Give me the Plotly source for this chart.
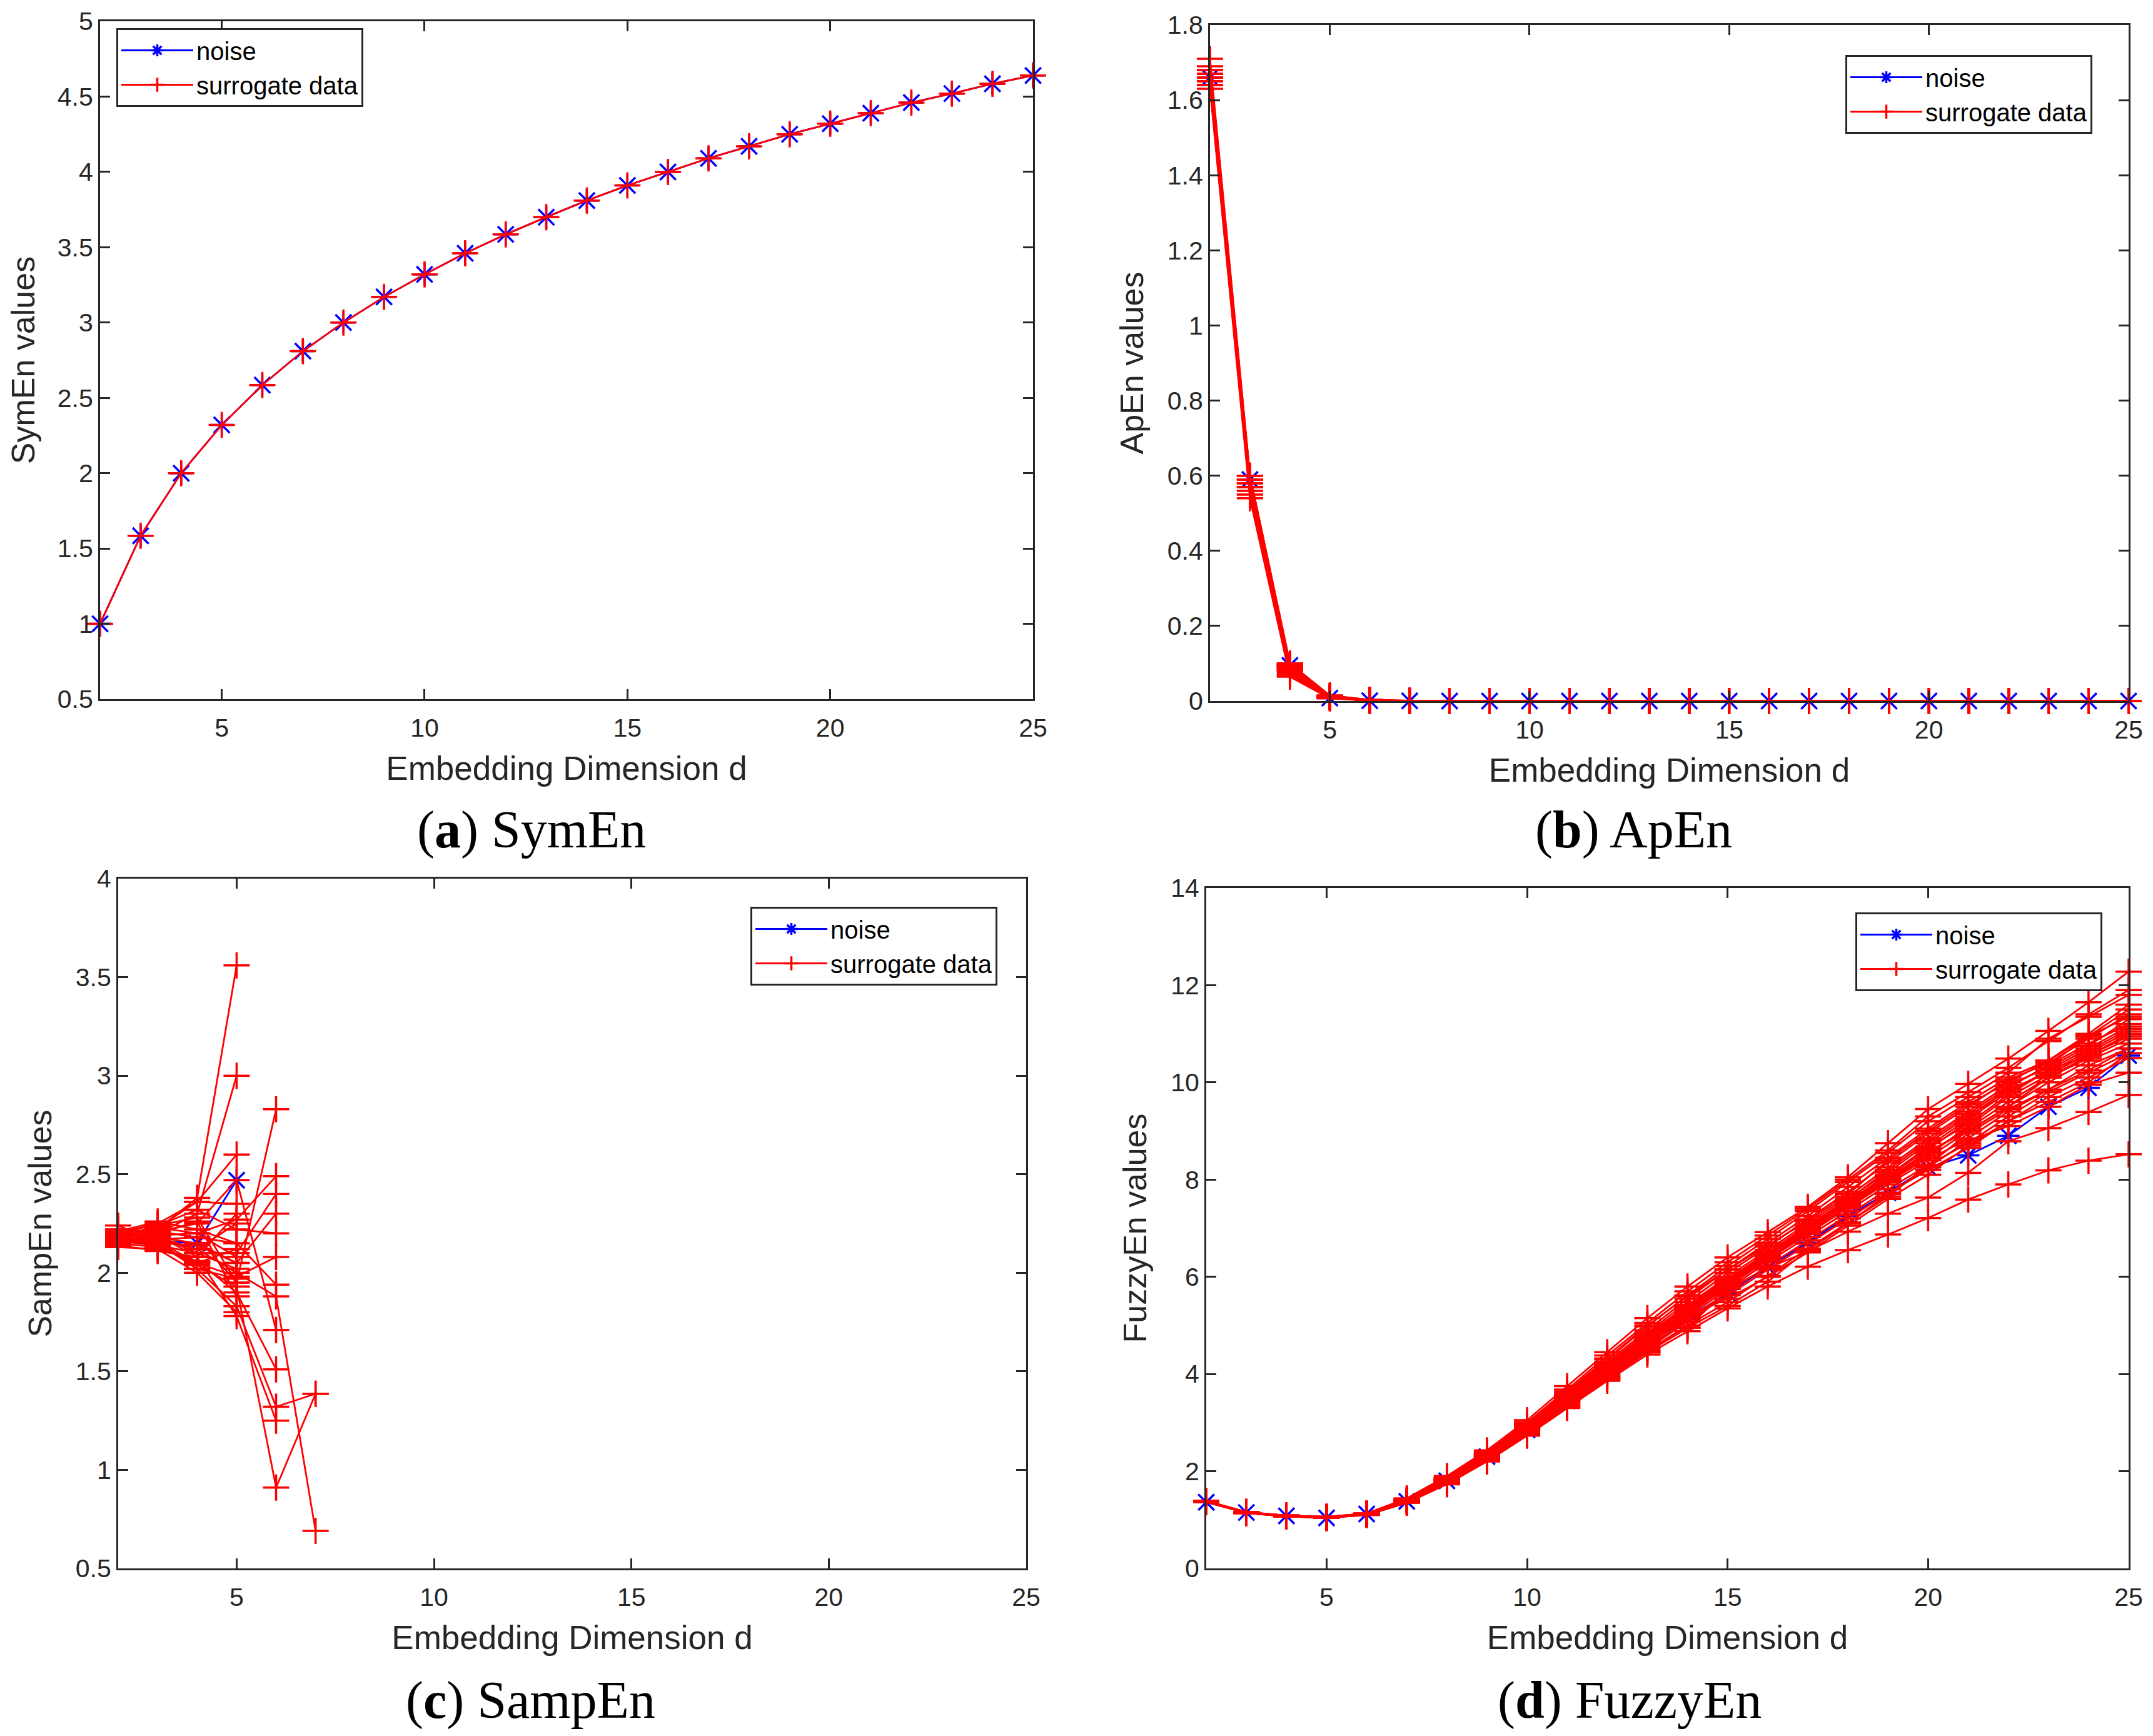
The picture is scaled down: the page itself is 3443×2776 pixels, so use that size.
import plotly.graph_objects as go
from plotly.subplots import make_subplots

# embedding dimensions
dims = [2, 3, 4, 5, 6, 7, 8, 9, 10, 11, 12, 13, 14, 15, 16, 17, 18, 19, 20, 21, 22, 23, 24, 25]

# (a) SymEn - all surrogates sit on top of the noise curve
symen_noise = [1.00, 1.585, 2.00, 2.32, 2.585, 2.81, 3.00, 3.17, 3.32, 3.46, 3.585, 3.70,
               3.81, 3.91, 4.00, 4.09, 4.17, 4.25, 4.32, 4.39, 4.46, 4.52, 4.585, 4.64]
symen_surr = [
    [1.00, 1.585, 2.00, 2.32, 2.585, 2.81, 3.00, 3.17, 3.32, 3.46, 3.585, 3.70,
     3.81, 3.91, 4.00, 4.09, 4.17, 4.25, 4.32, 4.39, 4.46, 4.52, 4.585, 4.64],
]

# (b) ApEn
apen_noise = [1.66, 0.59, 0.095, 0.008, 0.001, 0.0003, 0.0, 0.0, 0.0, 0.0, 0.0, 0.0,
              0.0, 0.0, 0.0, 0.0, 0.0, 0.0, 0.0, 0.0, 0.0, 0.0, 0.0, 0.0]
apen_surr = [
    [1.71, 0.60, 0.100, 0.014, 0.003, 0.0005, 0.0, 0.0, 0.0, 0.0, 0.0, 0.0, 0.0, 0.0, 0.0, 0.0, 0.0, 0.0, 0.0, 0.0, 0.0, 0.0, 0.0, 0.0],
    [1.68, 0.59, 0.095, 0.012, 0.002, 0.0004, 0.0, 0.0, 0.0, 0.0, 0.0, 0.0, 0.0, 0.0, 0.0, 0.0, 0.0, 0.0, 0.0, 0.0, 0.0, 0.0, 0.0, 0.0],
    [1.67, 0.58, 0.090, 0.011, 0.002, 0.0003, 0.0, 0.0, 0.0, 0.0, 0.0, 0.0, 0.0, 0.0, 0.0, 0.0, 0.0, 0.0, 0.0, 0.0, 0.0, 0.0, 0.0, 0.0],
    [1.66, 0.57, 0.085, 0.010, 0.002, 0.0003, 0.0, 0.0, 0.0, 0.0, 0.0, 0.0, 0.0, 0.0, 0.0, 0.0, 0.0, 0.0, 0.0, 0.0, 0.0, 0.0, 0.0, 0.0],
    [1.65, 0.56, 0.080, 0.009, 0.001, 0.0002, 0.0, 0.0, 0.0, 0.0, 0.0, 0.0, 0.0, 0.0, 0.0, 0.0, 0.0, 0.0, 0.0, 0.0, 0.0, 0.0, 0.0, 0.0],
    [1.64, 0.55, 0.075, 0.008, 0.001, 0.0002, 0.0, 0.0, 0.0, 0.0, 0.0, 0.0, 0.0, 0.0, 0.0, 0.0, 0.0, 0.0, 0.0, 0.0, 0.0, 0.0, 0.0, 0.0],
    [1.63, 0.54, 0.065, 0.007, 0.001, 0.0002, 0.0, 0.0, 0.0, 0.0, 0.0, 0.0, 0.0, 0.0, 0.0, 0.0, 0.0, 0.0, 0.0, 0.0, 0.0, 0.0, 0.0, 0.0],
    [1.67, 0.59, 0.095, 0.013, 0.002, 0.0004, 0.0, 0.0, 0.0, 0.0, 0.0, 0.0, 0.0, 0.0, 0.0, 0.0, 0.0, 0.0, 0.0, 0.0, 0.0, 0.0, 0.0, 0.0],
    [1.66, 0.58, 0.090, 0.011, 0.002, 0.0003, 0.0, 0.0, 0.0, 0.0, 0.0, 0.0, 0.0, 0.0, 0.0, 0.0, 0.0, 0.0, 0.0, 0.0, 0.0, 0.0, 0.0, 0.0],
    [1.65, 0.57, 0.085, 0.010, 0.002, 0.0003, 0.0, 0.0, 0.0, 0.0, 0.0, 0.0, 0.0, 0.0, 0.0, 0.0, 0.0, 0.0, 0.0, 0.0, 0.0, 0.0, 0.0, 0.0],
    [1.68, 0.60, 0.100, 0.015, 0.003, 0.0005, 0.0, 0.0, 0.0, 0.0, 0.0, 0.0, 0.0, 0.0, 0.0, 0.0, 0.0, 0.0, 0.0, 0.0, 0.0, 0.0, 0.0, 0.0],
    [1.64, 0.56, 0.080, 0.009, 0.001, 0.0002, 0.0, 0.0, 0.0, 0.0, 0.0, 0.0, 0.0, 0.0, 0.0, 0.0, 0.0, 0.0, 0.0, 0.0, 0.0, 0.0, 0.0, 0.0],
    [1.66, 0.58, 0.090, 0.012, 0.002, 0.0003, 0.0, 0.0, 0.0, 0.0, 0.0, 0.0, 0.0, 0.0, 0.0, 0.0, 0.0, 0.0, 0.0, 0.0, 0.0, 0.0, 0.0, 0.0],
    [1.67, 0.59, 0.095, 0.012, 0.002, 0.0004, 0.0, 0.0, 0.0, 0.0, 0.0, 0.0, 0.0, 0.0, 0.0, 0.0, 0.0, 0.0, 0.0, 0.0, 0.0, 0.0, 0.0, 0.0],
    [1.65, 0.57, 0.085, 0.010, 0.002, 0.0003, 0.0, 0.0, 0.0, 0.0, 0.0, 0.0, 0.0, 0.0, 0.0, 0.0, 0.0, 0.0, 0.0, 0.0, 0.0, 0.0, 0.0, 0.0],
    [1.69, 0.60, 0.100, 0.014, 0.003, 0.0004, 0.0, 0.0, 0.0, 0.0, 0.0, 0.0, 0.0, 0.0, 0.0, 0.0, 0.0, 0.0, 0.0, 0.0, 0.0, 0.0, 0.0, 0.0],
    [1.64, 0.55, 0.070, 0.008, 0.001, 0.0002, 0.0, 0.0, 0.0, 0.0, 0.0, 0.0, 0.0, 0.0, 0.0, 0.0, 0.0, 0.0, 0.0, 0.0, 0.0, 0.0, 0.0, 0.0],
    [1.67, 0.59, 0.095, 0.013, 0.002, 0.0003, 0.0, 0.0, 0.0, 0.0, 0.0, 0.0, 0.0, 0.0, 0.0, 0.0, 0.0, 0.0, 0.0, 0.0, 0.0, 0.0, 0.0, 0.0],
]

# (c) SampEn - undefined values (no matches) are None
sampen_noise = [2.18, 2.16, 2.15, 2.47, None, None, None, None, None, None, None, None,
                None, None, None, None, None, None, None, None, None, None, None, None]
sampen_surr_head = [
    [2.19, 2.22, 2.38, 3.56, None, None],
    [2.17, 2.20, 2.30, 3.00, None, None],
    [2.20, 2.25, 2.36, 2.60, None, None],
    [2.18, 2.21, 2.25, 2.47, 1.71, None],
    [2.21, 2.24, 2.28, 1.95, 2.83, None],
    [2.19, 2.23, 2.20, 2.27, 2.49, None],
    [2.16, 2.19, 2.10, 2.10, 2.40, None],
    [2.20, 2.18, 2.15, 2.05, 2.30, None],
    [2.18, 2.24, 2.32, 2.22, 2.20, None],
    [2.17, 2.16, 2.05, 1.98, 2.08, None],
    [2.22, 2.21, 2.18, 2.15, 1.94, None],
    [2.19, 2.17, 2.12, 2.00, 1.88, 0.69],
    [2.15, 2.13, 2.06, 1.90, 1.51, None],
    [2.18, 2.15, 2.02, 1.83, 1.32, 1.386],
    [2.20, 2.19, 2.08, 1.78, 1.25, None],
    [2.16, 2.14, 2.04, 1.93, 0.91, 1.386],
    [2.16, 2.18, 2.12, 2.25, None, None],
    [2.18, 2.13, 2.05, 2.12, None, None],
    [2.22, 2.19, 2.20, 2.08, None, None],
    [2.15, 2.16, 2.02, 1.97, None, None],
    [2.19, 2.23, 2.36, 2.35, None, None],
    [2.17, 2.14, 2.10, 2.02, None, None],
    [2.20, 2.17, 2.18, 1.95, None, None],
    [2.14, 2.11, 2.08, 2.30, None, None],
    [2.21, 2.26, 2.22, 2.15, None, None],
    [2.18, 2.20, 2.26, 1.88, None, None],
    [2.13, 2.12, 2.00, 1.80, None, None],
    [2.24, 2.15, 2.14, 2.05, None, None],
]

# (d) FuzzyEn
fuzzyen_noise = [1.36, 1.15, 1.08, 1.04, 1.12, 1.38, 1.80, 2.30, 2.85, 3.45, 4.05, 4.62,
                 5.15, 5.66, 6.20, 6.70, 7.25, 7.73, 8.25, 8.50, 8.90, 9.50, 9.89, 10.55]
fuzzyen_surr = [
    [1.39, 1.16, 1.09, 1.06, 1.13, 1.44, 1.90, 2.43, 3.05, 3.75, 4.45, 5.15, 5.80, 6.40, 6.92, 7.44, 8.05, 8.75, 9.45, 9.97, 10.49, 11.06, 11.65, 12.28],
    [1.38, 1.15, 1.08, 1.05, 1.12, 1.42, 1.87, 2.40, 3.00, 3.68, 4.38, 5.05, 5.70, 6.30, 6.85, 7.40, 8.00, 8.60, 9.30, 9.80, 10.30, 10.85, 11.40, 11.90],
    [1.38, 1.16, 1.08, 1.06, 1.13, 1.41, 1.85, 2.37, 2.97, 3.62, 4.30, 4.98, 5.62, 6.22, 6.78, 7.35, 7.95, 8.55, 9.20, 9.70, 10.20, 10.90, 11.35, 11.80],
    [1.37, 1.15, 1.07, 1.05, 1.12, 1.40, 1.84, 2.35, 2.95, 3.60, 4.25, 4.90, 5.55, 6.15, 6.70, 7.25, 7.85, 8.45, 9.05, 9.60, 10.10, 10.45, 11.00, 11.60],
    [1.38, 1.14, 1.08, 1.04, 1.11, 1.40, 1.83, 2.34, 2.93, 3.57, 4.22, 4.85, 5.48, 6.08, 6.62, 7.18, 7.75, 8.35, 8.95, 9.50, 10.05, 10.40, 10.90, 11.40],
    [1.39, 1.15, 1.09, 1.05, 1.12, 1.41, 1.84, 2.35, 2.92, 3.55, 4.18, 4.80, 5.42, 6.00, 6.55, 7.10, 7.65, 8.25, 8.85, 9.40, 9.95, 10.30, 10.75, 11.30],
    [1.38, 1.15, 1.08, 1.05, 1.12, 1.39, 1.82, 2.32, 2.90, 3.52, 4.15, 4.78, 5.38, 5.95, 6.50, 7.05, 7.60, 8.15, 8.75, 9.30, 9.85, 10.20, 10.65, 11.10],
    [1.37, 1.14, 1.07, 1.04, 1.11, 1.39, 1.81, 2.31, 2.88, 3.50, 4.12, 4.72, 5.32, 5.90, 6.45, 6.98, 7.52, 8.05, 8.65, 9.15, 9.75, 10.25, 10.55, 11.00],
    [1.38, 1.15, 1.08, 1.05, 1.12, 1.38, 1.80, 2.30, 2.87, 3.48, 4.10, 4.70, 5.28, 5.85, 6.40, 6.95, 7.50, 8.00, 8.55, 9.05, 9.60, 10.10, 10.50, 10.90],
    [1.38, 1.16, 1.08, 1.06, 1.13, 1.40, 1.82, 2.33, 2.91, 3.54, 4.16, 4.76, 5.35, 5.92, 6.46, 7.00, 7.55, 8.10, 8.62, 9.20, 9.90, 10.35, 10.80, 11.20],
    [1.37, 1.15, 1.07, 1.05, 1.11, 1.38, 1.79, 2.28, 2.85, 3.45, 4.05, 4.65, 5.22, 5.80, 6.35, 6.88, 7.42, 7.95, 8.45, 9.00, 9.50, 10.00, 10.45, 10.80],
    [1.38, 1.14, 1.08, 1.04, 1.12, 1.37, 1.78, 2.27, 2.83, 3.43, 4.02, 4.60, 5.18, 5.75, 6.30, 6.82, 7.35, 7.90, 8.40, 8.85, 9.40, 9.85, 10.35, 10.70],
    [1.39, 1.15, 1.08, 1.05, 1.12, 1.39, 1.81, 2.30, 2.86, 3.47, 4.08, 4.68, 5.25, 5.82, 6.38, 6.92, 7.45, 7.98, 8.50, 9.10, 9.70, 10.15, 10.60, 11.05],
    [1.38, 1.15, 1.08, 1.05, 1.11, 1.37, 1.77, 2.25, 2.80, 3.40, 3.98, 4.56, 5.12, 5.68, 6.22, 6.75, 7.28, 7.80, 8.30, 8.75, 9.30, 9.80, 10.20, 10.60],
    [1.37, 1.14, 1.07, 1.04, 1.11, 1.36, 1.76, 2.24, 2.78, 3.37, 3.95, 4.52, 5.08, 5.62, 6.15, 6.68, 7.20, 7.72, 8.20, 8.65, 9.20, 9.70, 10.10, 10.50],
    [1.38, 1.15, 1.08, 1.05, 1.12, 1.38, 1.79, 2.28, 2.84, 3.44, 4.04, 4.62, 5.20, 5.55, 6.00, 6.50, 7.05, 7.60, 8.10, 8.70, 9.20, 9.60, 10.00, 10.60],
    [1.38, 1.15, 1.08, 1.05, 1.12, 1.37, 1.76, 2.23, 2.77, 3.35, 3.93, 4.48, 5.00, 5.48, 6.02, 6.58, 7.12, 7.65, 8.30, 8.95, 9.45, 9.85, 10.25, 10.70],
    [1.37, 1.14, 1.07, 1.04, 1.10, 1.35, 1.74, 2.21, 2.75, 3.32, 3.90, 4.45, 4.95, 5.40, 5.90, 6.55, 7.10, 7.70, 8.25, 8.80, 9.10, 9.50, 9.95, 10.20],
    [1.39, 1.16, 1.09, 1.06, 1.13, 1.42, 1.86, 2.38, 2.98, 3.64, 4.32, 5.00, 5.60, 6.15, 6.65, 7.15, 7.70, 8.40, 9.00, 9.55, 10.00, 10.45, 10.95, 11.35],
    [1.38, 1.15, 1.08, 1.05, 1.12, 1.40, 1.83, 2.34, 2.92, 3.56, 4.20, 4.82, 5.40, 5.95, 6.48, 7.02, 7.58, 8.20, 8.80, 9.35, 9.90, 10.35, 10.95, 11.50],
    [1.38, 1.15, 1.08, 1.05, 1.11, 1.36, 1.75, 2.22, 2.76, 3.34, 3.90, 4.45, 4.95, 5.75, 6.18, 6.52, 6.93, 7.30, 7.63, 8.14, 8.79, 9.06, 9.39, 9.74],
    [1.37, 1.14, 1.07, 1.04, 1.10, 1.35, 1.73, 2.20, 2.73, 3.30, 3.86, 4.40, 4.88, 5.35, 5.80, 6.21, 6.55, 6.87, 7.21, 7.59, 7.90, 8.19, 8.39, 8.52],
    [1.38, 1.15, 1.08, 1.05, 1.12, 1.39, 1.80, 2.29, 2.86, 3.46, 4.06, 4.66, 5.25, 5.82, 6.36, 6.90, 7.46, 8.02, 8.58, 9.00, 9.50, 10.10, 10.55, 10.95],
    [1.38, 1.16, 1.08, 1.05, 1.12, 1.40, 1.82, 2.32, 2.89, 3.51, 4.12, 4.73, 5.30, 5.88, 6.42, 6.96, 7.52, 8.08, 8.68, 9.25, 9.80, 10.25, 10.70, 11.15],
]

# the page body keeps its default 8px margin, so the figure is made that much smaller
PAGE_W, PAGE_H = 3443, 2776
PAD = 8
W, H = PAGE_W - 2 * PAD, PAGE_H - 2 * PAD


def px(xp):
    return (xp - PAD) / W


def py(yp):
    return 1 - (yp - PAD) / H


AX = "#262626"
BLUE = "#0000FF"
RED = "#FF0000"
SANS = "Liberation Sans"

fig = make_subplots(rows=2, cols=2)

panels = [
    # row, col, noise, surrogates, legend name
    (1, 1, symen_noise, symen_surr, "legend"),
    (1, 2, apen_noise, apen_surr, "legend2"),
    (2, 1, sampen_noise, sampen_surr_head, "legend3"),
    (2, 2, fuzzyen_noise, fuzzyen_surr, "legend4"),
]

for row, col, noise, surr, leg in panels:
    fig.add_trace(go.Scatter(
        x=dims, y=noise, mode="lines+markers", name="noise",
        line=dict(color=BLUE, width=2.8),
        marker=dict(symbol="asterisk-open", size=30, color=BLUE, line=dict(color=BLUE, width=3.5)),
        legend=leg, cliponaxis=False, connectgaps=False,
    ), row=row, col=col)
    for i, s in enumerate(surr):
        fig.add_trace(go.Scatter(
            x=dims[:len(s)], y=s, mode="lines+markers", name="surrogate data",
            line=dict(color=RED, width=2.8),
            marker=dict(symbol="cross-thin-open", size=30, color=RED, line=dict(color=RED, width=3.5)),
            legend=leg, showlegend=(i == 0), legendgroup="surr" + leg,
            cliponaxis=False, connectgaps=False,
        ), row=row, col=col)

# axes boxes in page pixels: left, right, top, bottom
boxes = {
    (1, 1): (160, 1652, 34, 1118),
    (1, 2): (1935, 3404, 40, 1121),
    (2, 1): (189, 1641, 1405, 2508),
    (2, 2): (1929, 3404, 1420, 2508),
}
yranges = {
    (1, 1): ([0.5, 5], 0.5, "SymEn values"),
    (1, 2): ([0, 1.8], 0.2, "ApEn values"),
    (2, 1): ([0.5, 4], 0.5, "SampEn values"),
    (2, 2): ([0, 14], 2, "FuzzyEn values"),
}

common = dict(
    showline=True, linecolor=AX, linewidth=3, mirror="ticks",
    ticks="inside", ticklen=16, tickwidth=3, tickcolor=AX,
    showgrid=False, zeroline=False, automargin=False, ticklabeloverflow="allow",
    tickfont=dict(family=SANS, size=41, color=AX),
)

for (row, col), (x0, x1, y0, y1) in boxes.items():
    fig.update_xaxes(
        domain=[px(x0), px(x1)], range=[2, 25], tickvals=[5, 10, 15, 20, 25],
        ticklabelstandoff=8,
        title=dict(text="Embedding Dimension d", font=dict(family=SANS, size=53, color=AX), standoff=24),
        row=row, col=col, **common)
    yr, dt, ttl = yranges[(row, col)]
    fig.update_yaxes(
        domain=[py(y1), py(y0)], range=yr, dtick=dt, tick0=0,
        title=dict(text=ttl, font=dict(family=SANS, size=52, color=AX), standoff=22),
        row=row, col=col, **common)

legend_style = dict(
    bgcolor="white", bordercolor=AX, borderwidth=3,
    font=dict(family=SANS, size=40, color="black"),
    tracegroupgap=0, itemwidth=115,
)
fig.update_layout(
    width=W, height=H, margin=dict(l=0, r=0, t=0, b=0, autoexpand=False),
    paper_bgcolor="white", plot_bgcolor="white",
    legend=dict(x=px(186), y=py(45), xanchor="left", yanchor="top", **legend_style),
    legend2=dict(x=px(3346), y=py(88), xanchor="right", yanchor="top", **legend_style),
    legend3=dict(x=px(1595), y=py(1450), xanchor="right", yanchor="top", **legend_style),
    legend4=dict(x=px(3362), y=py(1459), xanchor="right", yanchor="top", **legend_style),
)

captions = [
    (850, 1327, "a", "SymEn"),
    (2612, 1327, "b", "ApEn"),
    (848, 2719, "c", "SampEn"),
    (2606, 2719, "d", "FuzzyEn"),
]
for cx, cy, letter, name in captions:
    fig.add_annotation(
        x=px(cx), y=py(cy), xref="paper", yref="paper", showarrow=False,
        text="(<b>" + letter + "</b>) " + name,
        font=dict(family="Liberation Serif", size=84, color="black"),
        xanchor="center", yanchor="middle",
    )

fig.write_html("out.html")
